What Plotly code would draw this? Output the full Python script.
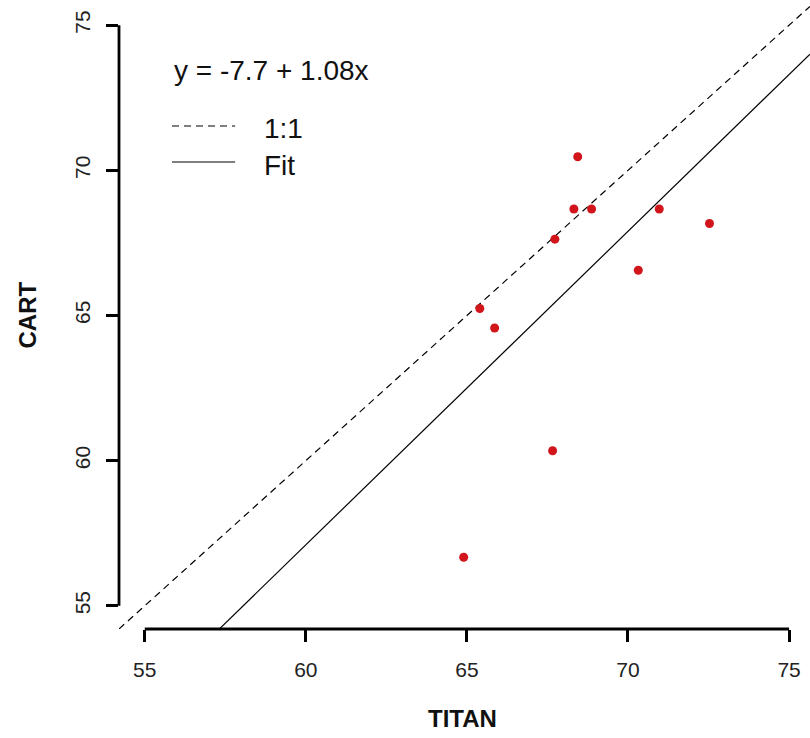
import plotly.graph_objects as go

# ---- data ----
titan = [68.44, 68.32, 68.87, 67.73, 70.97, 72.53, 70.32, 65.40, 65.86, 67.66, 64.90]
cart = [70.47, 68.67, 68.67, 67.63, 68.67, 68.17, 66.56, 65.24, 64.57, 60.34, 56.67]
fit_intercept = -7.7
fit_slope = 1.08
tick_vals = [55, 60, 65, 70, 75]
x_title = "TITAN"
y_title = "CART"
legend_labels = ["1:1", "Fit"]

x_range = [54.2, 75.65]
y_range = [54.2, 75.8]

FONT = "Liberation Sans, Arial, sans-serif"

fig = go.Figure()

# 1:1 line
fig.add_trace(go.Scatter(
    x=x_range, y=x_range, mode="lines",
    line=dict(color="black", width=1.2, dash="7px,5px"),
    showlegend=False, hoverinfo="skip"))

# fit line
fig.add_trace(go.Scatter(
    x=x_range, y=[fit_intercept + fit_slope * v for v in x_range], mode="lines",
    line=dict(color="black", width=1.2),
    showlegend=False, hoverinfo="skip"))

# points
fig.add_trace(go.Scatter(
    x=titan, y=cart, mode="markers",
    marker=dict(color="#D2151A", size=9, line=dict(width=0)),
    showlegend=False))

axis_common = dict(
    tickmode="array", tickvals=tick_vals,
    ticks="outside", ticklen=12, tickwidth=2.5, tickcolor="black",
    showgrid=False, zeroline=False, showline=False,
    tickfont=dict(family=FONT, size=21, color="#222222"),
    fixedrange=True,
)

fig.update_xaxes(range=x_range, ticklabelstandoff=10, **axis_common)
fig.update_yaxes(range=y_range, tickangle=-90, ticklabelstandoff=8, **axis_common)

shapes = [
    # axis lines spanning only the tick range (R style)
    dict(type="line", xref="x", yref="paper", x0=tick_vals[0], x1=tick_vals[-1], y0=0, y1=0,
         line=dict(color="black", width=2.8)),
    dict(type="line", xref="paper", yref="y", x0=0, x1=0, y0=tick_vals[0], y1=tick_vals[-1],
         line=dict(color="black", width=2.8)),
    # legend samples
    dict(type="line", xref="paper", yref="paper", x0=0.0767, x1=0.168, y0=0.8022, y1=0.8022,
         line=dict(color="black", width=1.2, dash="7px,5px")),
    dict(type="line", xref="paper", yref="paper", x0=0.0767, x1=0.168, y0=0.7448, y1=0.7448,
         line=dict(color="black", width=1.2)),
]

LEG = 28
annotations = [
    dict(text=f"y = {fit_intercept} + {fit_slope}x", xref="paper", yref="paper",
         x=0.0767, y=0.8915, xanchor="left", yanchor="middle", showarrow=False,
         font=dict(family=FONT, size=LEG, color="#111111")),
    dict(text=legend_labels[0], xref="paper", yref="paper",
         x=0.207, y=0.798, xanchor="left", yanchor="middle", showarrow=False,
         font=dict(family=FONT, size=LEG, color="#111111")),
    dict(text=legend_labels[1], xref="paper", yref="paper",
         x=0.207, y=0.740, xanchor="left", yanchor="middle", showarrow=False,
         font=dict(family=FONT, size=LEG, color="#111111")),
    dict(text=f"<b>{x_title}</b>", xref="paper", yref="paper",
         x=0.4968, y=-0.142, xanchor="center", yanchor="middle", showarrow=False,
         font=dict(family=FONT, size=24, color="#111111")),
    dict(text=f"<b>{y_title}</b>", xref="paper", yref="paper",
         x=-0.1331, y=0.5, xanchor="center", yanchor="middle", showarrow=False,
         textangle=-90, font=dict(family=FONT, size=24, color="#111111")),
]

fig.update_layout(
    width=810, height=738,
    margin=dict(l=119, r=0, t=2, b=109, pad=0),
    paper_bgcolor="white", plot_bgcolor="white",
    shapes=shapes, annotations=annotations,
    showlegend=False,
)

fig.write_html("out.html")
